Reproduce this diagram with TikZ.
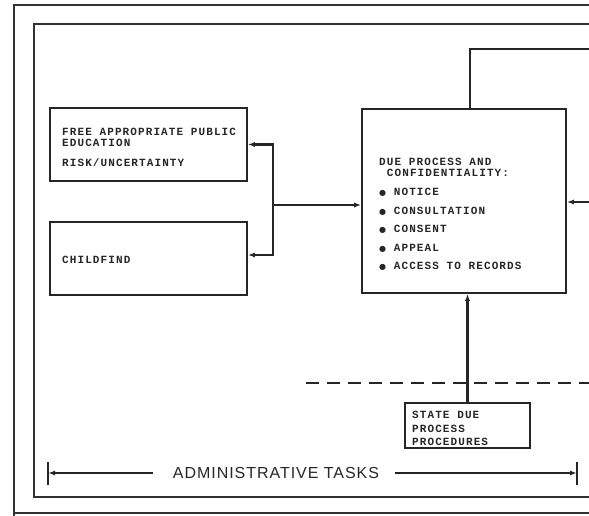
\documentclass[tikz,border=0pt]{standalone}
\usepackage{fontspec}
\usetikzlibrary{arrows.meta}
\newfontfamily\lblfont[LetterSpace=10]{Liberation Mono}
\newfontfamily\admfont[LetterSpace=6]{Liberation Sans}
\newfontfamily\symfont{DejaVu Sans}
\newcommand{\bul}{{\symfont\fontsize{8}{8}\selectfont ●}}
\tikzset{
  frame/.style={line width=1.2pt,draw=black!80},
  boxst/.style={draw=black!85,line width=1.6pt,rectangle,inner sep=0pt},
  lbl/.style={font=\lblfont\bfseries\fontsize{11}{11}\selectfont,align=left,inner sep=0pt,anchor=base west,text=black!85},
  conn/.style={line width=2.2pt,draw=black!85},
  arr/.style={line width=2.2pt,draw=black!85,-{Latex[length=7pt,width=5pt]}},
}
\begin{document}
\begin{tikzpicture}[x=1pt,y=-1pt]
\useasboundingbox (0,0) rectangle (589,516);
% frames
\draw[frame] (14,516) -- (14,5) -- (589,5);
\draw[frame] (14,513) -- (589,513);
\draw[frame] (589,24) -- (34,24) -- (34,497) -- (589,497);
% boxes
\node[boxst,minimum width=197pt,minimum height=73pt] (fape) at (148.5,144.5) {};
\node[boxst,minimum width=197pt,minimum height=73pt] (cf) at (148.5,258.5) {};
\node[boxst,minimum width=204pt,minimum height=184pt] (dp) at (464,201) {};
\node[boxst,minimum width=125pt,minimum height=45pt] (st) at (467.5,425.5) {};
% texts (anchor = baseline of last line)
\node[lbl] (t1) at (62,166.5) {FREE APPROPRIATE PUBLIC\\EDUCATION\\[9pt]RISK/UNCERTAINTY};
\node[lbl] (t2) at (62,263.5) {CHILDFIND};
\node[lbl] (t3) at (379,176.5) {DUE PROCESS AND\\\ CONFIDENTIALITY:};
\node[lbl] (t4) at (379,269.5) {\bul\ NOTICE\\[7.5pt]\bul\ CONSULTATION\\[7.5pt]\bul\ CONSENT\\[7.5pt]\bul\ APPEAL\\[7.5pt]\bul\ ACCESS TO RECORDS};
\node[lbl] (t5) at (412,445.5) {STATE DUE\\[2.5pt]PROCESS\\[2.5pt]PROCEDURES};
% connectors
\coordinate (j) at (273,205);
\draw[arr] (j) |- (fape.east);
\draw[arr] (j) |- ([yshift=3.5pt]cf.east);
\draw[arr] (j) -- ([yshift=-4pt]dp.west);
\coordinate (topR) at (589,49);
\draw[conn] ([xshift=6pt]dp.north) |- (topR);
\coordinate (rin) at (589,202);
\draw[arr] (rin) -- (dp.east |- rin);
\draw[arr] (st.north) -- (st.north |- dp.south);
\coordinate (d1) at (306,383);
\coordinate (d2) at (589,383);
\draw[conn,dash pattern=on 13pt off 8pt] (d1) -- (d2);
% bottom
\node[font=\admfont\fontsize{16}{18}\selectfont,inner sep=0pt,text=black!85] (adm) at (276,473) {ADMINISTRATIVE TASKS};
\coordinate (lb) at (48,473);
\coordinate (rb) at (577,473);
\draw[arr] ([xshift=-20pt]adm.west) -- (lb);
\draw[arr] ([xshift=16pt]adm.east) -- (rb);
\draw[conn] (48,462) -- (48,485);
\draw[conn] (577,462) -- (577,485);
\end{tikzpicture}
\end{document}
